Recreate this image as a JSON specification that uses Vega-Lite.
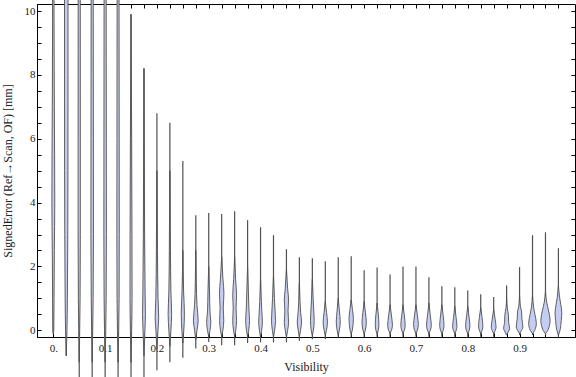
{
  "$schema": "https://vega.github.io/schema/vega-lite/v6.json",
  "width": 538,
  "height": 333,
  "autosize": {"type": "none"},
  "padding": {"left": 37, "top": 4, "right": 1, "bottom": 40},
  "background": "white",
  "config": {
    "view": {"stroke": "#000", "strokeWidth": 1},
    "axis": {
      "labelFont": "Liberation Serif", "titleFont": "Liberation Serif",
      "labelFontSize": 11, "titleFontSize": 12, "labelColor": "#222", "titleColor": "#222",
      "titleFontWeight": "normal", "domainColor": "#000", "tickColor": "#000", "grid": false,
      "labelOverlap": false, "labelFlush": false
    }
  },
  "datasets": {
    "ranges": [
      {"v":0,"lo":-0.1,"hi":11},{"v":0.025,"lo":-0.8,"hi":11},{"v":0.05,"lo":-2,"hi":11},{"v":0.075,"lo":-2,"hi":11},
      {"v":0.1,"lo":-2,"hi":11},{"v":0.125,"lo":-2,"hi":11},{"v":0.15,"lo":-2,"hi":9.9},{"v":0.175,"lo":-2,"hi":8.2},
      {"v":0.2,"lo":-1.25,"hi":6.8},{"v":0.225,"lo":-1.0,"hi":6.5},{"v":0.25,"lo":-0.86,"hi":5.3},{"v":0.275,"lo":-0.57,"hi":3.6},
      {"v":0.3,"lo":-0.37,"hi":3.67},{"v":0.325,"lo":-0.47,"hi":3.64},{"v":0.35,"lo":-0.47,"hi":3.73},{"v":0.375,"lo":-0.4,"hi":3.45},
      {"v":0.4,"lo":-0.38,"hi":3.23},{"v":0.425,"lo":-0.38,"hi":2.98},{"v":0.45,"lo":-0.38,"hi":2.54},{"v":0.475,"lo":-0.33,"hi":2.29},
      {"v":0.5,"lo":-0.28,"hi":2.26},{"v":0.525,"lo":-0.28,"hi":2.16},{"v":0.55,"lo":-0.25,"hi":2.29},{"v":0.575,"lo":-0.2,"hi":2.32},
      {"v":0.6,"lo":-0.2,"hi":1.88},{"v":0.625,"lo":-0.2,"hi":1.97},{"v":0.65,"lo":-0.2,"hi":1.75},{"v":0.675,"lo":-0.2,"hi":2.0},
      {"v":0.7,"lo":-0.2,"hi":2.0},{"v":0.725,"lo":-0.2,"hi":1.66},{"v":0.75,"lo":-0.2,"hi":1.38},{"v":0.775,"lo":-0.2,"hi":1.35},
      {"v":0.8,"lo":-0.2,"hi":1.25},{"v":0.825,"lo":-0.2,"hi":1.13},{"v":0.85,"lo":-0.2,"hi":1.04},{"v":0.875,"lo":-0.15,"hi":1.4},
      {"v":0.9,"lo":-0.15,"hi":1.98},{"v":0.925,"lo":-0.15,"hi":2.98},{"v":0.95,"lo":-0.15,"hi":3.07},{"v":0.975,"lo":-0.23,"hi":2.57}
    ],
    "profiles": [
      {"v":0,"y":-0.1,"d":0.05},{"v":0,"y":0,"d":0.6},{"v":0,"y":1,"d":0.9},{"v":0,"y":2.5,"d":1.3},{"v":0,"y":4,"d":1.8},{"v":0,"y":5.5,"d":1.6},{"v":0,"y":7,"d":1.3},{"v":0,"y":9,"d":1.0},{"v":0,"y":11,"d":0.8},
      {"v":0.025,"y":-0.8,"d":0.05},{"v":0.025,"y":-0.3,"d":0.5},{"v":0.025,"y":0,"d":0.9},{"v":0.025,"y":1,"d":1.4},{"v":0.025,"y":3,"d":1.9},{"v":0.025,"y":5,"d":2.1},{"v":0.025,"y":8,"d":2.2},{"v":0.025,"y":11,"d":2.2},
      {"v":0.05,"y":-1,"d":0.05},{"v":0.05,"y":0,"d":0.6},{"v":0.05,"y":1,"d":1.1},{"v":0.05,"y":3,"d":1.4},{"v":0.05,"y":6,"d":1.4},{"v":0.05,"y":11,"d":1.3},
      {"v":0.075,"y":-1,"d":0.05},{"v":0.075,"y":0,"d":0.7},{"v":0.075,"y":1,"d":1.2},{"v":0.075,"y":3,"d":1.6},{"v":0.075,"y":6,"d":1.5},{"v":0.075,"y":11,"d":1.3},
      {"v":0.1,"y":-1,"d":0.05},{"v":0.1,"y":0,"d":0.8},{"v":0.1,"y":1,"d":1.3},{"v":0.1,"y":3,"d":1.6},{"v":0.1,"y":6,"d":1.5},{"v":0.1,"y":11,"d":1.3},
      {"v":0.125,"y":-1,"d":0.05},{"v":0.125,"y":0,"d":0.8},{"v":0.125,"y":1,"d":1.3},{"v":0.125,"y":3,"d":1.5},{"v":0.125,"y":6,"d":1.4},{"v":0.125,"y":11,"d":1.2},
      {"v":0.15,"y":-1,"d":0.05},{"v":0.15,"y":0,"d":0.8},{"v":0.15,"y":1,"d":1.3},{"v":0.15,"y":3,"d":1.2},{"v":0.15,"y":6,"d":0.8},{"v":0.15,"y":9.9,"d":0.05},
      {"v":0.175,"y":-0.8,"d":0.05},{"v":0.175,"y":0,"d":1.2},{"v":0.175,"y":0.5,"d":1.8},{"v":0.175,"y":1.2,"d":1.4},{"v":0.175,"y":3,"d":0.8},{"v":0.175,"y":6,"d":0.4},{"v":0.175,"y":8.2,"d":0.05},
      {"v":0.2,"y":-0.6,"d":0.05},{"v":0.2,"y":0,"d":1.3},{"v":0.2,"y":0.4,"d":2.2},{"v":0.2,"y":1,"d":1.4},{"v":0.2,"y":2.5,"d":0.7},{"v":0.2,"y":5,"d":0.05},
      {"v":0.225,"y":-0.5,"d":0.05},{"v":0.225,"y":0,"d":1.3},{"v":0.225,"y":0.5,"d":2.2},{"v":0.225,"y":1.2,"d":1.3},{"v":0.225,"y":2.5,"d":0.7},{"v":0.225,"y":5,"d":0.05},
      {"v":0.25,"y":-0.4,"d":0.05},{"v":0.25,"y":0,"d":1.2},{"v":0.25,"y":0.5,"d":2.0},{"v":0.25,"y":1.2,"d":1.0},{"v":0.25,"y":2.5,"d":0.05},
      {"v":0.275,"y":-0.3,"d":0.05},{"v":0.275,"y":0,"d":1.5},{"v":0.275,"y":0.3,"d":3.0},{"v":0.275,"y":0.8,"d":1.5},{"v":0.275,"y":1.5,"d":0.6},{"v":0.275,"y":2.5,"d":0.05},
      {"v":0.3,"y":-0.2,"d":0.05},{"v":0.3,"y":0,"d":1.6},{"v":0.3,"y":0.25,"d":2.6},{"v":0.3,"y":0.6,"d":1.5},{"v":0.3,"y":1.2,"d":1.0},{"v":0.3,"y":2,"d":0.05},
      {"v":0.325,"y":-0.2,"d":0.05},{"v":0.325,"y":0,"d":1.5},{"v":0.325,"y":0.3,"d":2.6},{"v":0.325,"y":0.7,"d":2.0},{"v":0.325,"y":1.15,"d":2.8},{"v":0.325,"y":1.6,"d":1.6},{"v":0.325,"y":2.3,"d":0.05},
      {"v":0.35,"y":-0.2,"d":0.05},{"v":0.35,"y":0,"d":1.4},{"v":0.35,"y":0.3,"d":2.4},{"v":0.35,"y":0.7,"d":1.8},{"v":0.35,"y":1.1,"d":2.4},{"v":0.35,"y":1.6,"d":1.2},{"v":0.35,"y":2.3,"d":0.05},
      {"v":0.375,"y":-0.2,"d":0.05},{"v":0.375,"y":0,"d":1.4},{"v":0.375,"y":0.3,"d":2.4},{"v":0.375,"y":0.7,"d":1.6},{"v":0.375,"y":1.2,"d":1.0},{"v":0.375,"y":2,"d":0.05},
      {"v":0.4,"y":-0.2,"d":0.05},{"v":0.4,"y":0,"d":1.4},{"v":0.4,"y":0.26,"d":2.3},{"v":0.4,"y":0.6,"d":1.6},{"v":0.4,"y":0.9,"d":1.0},{"v":0.4,"y":1.6,"d":0.05},
      {"v":0.425,"y":-0.2,"d":0.05},{"v":0.425,"y":0,"d":1.4},{"v":0.425,"y":0.3,"d":2.5},{"v":0.425,"y":0.7,"d":1.8},{"v":0.425,"y":1.0,"d":1.2},{"v":0.425,"y":1.7,"d":0.05},
      {"v":0.45,"y":-0.2,"d":0.05},{"v":0.45,"y":0,"d":1.5},{"v":0.45,"y":0.25,"d":2.7},{"v":0.45,"y":0.6,"d":2.0},{"v":0.45,"y":0.95,"d":2.7},{"v":0.45,"y":1.3,"d":1.5},{"v":0.45,"y":1.9,"d":0.05},
      {"v":0.475,"y":-0.2,"d":0.05},{"v":0.475,"y":0,"d":1.5},{"v":0.475,"y":0.26,"d":2.7},{"v":0.475,"y":0.55,"d":1.6},{"v":0.475,"y":0.9,"d":0.8},{"v":0.475,"y":1.5,"d":0.05},
      {"v":0.5,"y":-0.15,"d":0.05},{"v":0.5,"y":0,"d":1.4},{"v":0.5,"y":0.3,"d":2.3},{"v":0.5,"y":0.7,"d":1.6},{"v":0.5,"y":1.0,"d":1.0},{"v":0.5,"y":1.6,"d":0.05},
      {"v":0.525,"y":-0.15,"d":0.05},{"v":0.525,"y":0,"d":1.5},{"v":0.525,"y":0.26,"d":2.7},{"v":0.525,"y":0.55,"d":1.6},{"v":0.525,"y":0.9,"d":0.05},
      {"v":0.55,"y":-0.15,"d":0.05},{"v":0.55,"y":0,"d":1.4},{"v":0.55,"y":0.26,"d":2.5},{"v":0.55,"y":0.6,"d":1.5},{"v":0.55,"y":1.0,"d":0.05},
      {"v":0.575,"y":-0.1,"d":0.05},{"v":0.575,"y":0,"d":1.4},{"v":0.575,"y":0.37,"d":2.7},{"v":0.575,"y":0.65,"d":1.6},{"v":0.575,"y":0.95,"d":0.05},
      {"v":0.6,"y":-0.1,"d":0.05},{"v":0.6,"y":0,"d":1.5},{"v":0.6,"y":0.26,"d":2.7},{"v":0.6,"y":0.55,"d":1.6},{"v":0.6,"y":0.9,"d":0.05},
      {"v":0.625,"y":-0.1,"d":0.05},{"v":0.625,"y":0,"d":1.5},{"v":0.625,"y":0.2,"d":2.3},{"v":0.625,"y":0.5,"d":1.5},{"v":0.625,"y":0.85,"d":0.05},
      {"v":0.65,"y":-0.1,"d":0.05},{"v":0.65,"y":0,"d":1.8},{"v":0.65,"y":0.16,"d":3.0},{"v":0.65,"y":0.45,"d":1.8},{"v":0.65,"y":0.8,"d":0.05},
      {"v":0.675,"y":-0.1,"d":0.05},{"v":0.675,"y":0,"d":1.7},{"v":0.675,"y":0.16,"d":2.7},{"v":0.675,"y":0.45,"d":1.7},{"v":0.675,"y":0.8,"d":0.05},
      {"v":0.7,"y":-0.1,"d":0.05},{"v":0.7,"y":0,"d":1.8},{"v":0.7,"y":0.18,"d":3.0},{"v":0.7,"y":0.45,"d":1.9},{"v":0.7,"y":0.8,"d":0.05},
      {"v":0.725,"y":-0.1,"d":0.05},{"v":0.725,"y":0,"d":1.8},{"v":0.725,"y":0.16,"d":3.0},{"v":0.725,"y":0.45,"d":1.8},{"v":0.725,"y":0.85,"d":0.05},
      {"v":0.75,"y":-0.1,"d":0.05},{"v":0.75,"y":0,"d":1.7},{"v":0.75,"y":0.16,"d":2.7},{"v":0.75,"y":0.45,"d":1.7},{"v":0.75,"y":0.8,"d":0.05},
      {"v":0.775,"y":-0.1,"d":0.05},{"v":0.775,"y":0,"d":1.8},{"v":0.775,"y":0.12,"d":2.7},{"v":0.775,"y":0.4,"d":1.6},{"v":0.775,"y":0.75,"d":0.05},
      {"v":0.8,"y":-0.1,"d":0.05},{"v":0.8,"y":0,"d":1.8},{"v":0.8,"y":0.15,"d":2.7},{"v":0.8,"y":0.42,"d":1.6},{"v":0.8,"y":0.75,"d":0.05},
      {"v":0.825,"y":-0.1,"d":0.05},{"v":0.825,"y":0,"d":1.8},{"v":0.825,"y":0.14,"d":2.7},{"v":0.825,"y":0.4,"d":1.7},{"v":0.825,"y":0.7,"d":0.05},
      {"v":0.85,"y":-0.1,"d":0.05},{"v":0.85,"y":0,"d":2.0},{"v":0.85,"y":0.1,"d":3.0},{"v":0.85,"y":0.35,"d":1.8},{"v":0.85,"y":0.65,"d":0.05},
      {"v":0.875,"y":-0.15,"d":0.05},{"v":0.875,"y":-0.05,"d":2.0},{"v":0.875,"y":0.06,"d":3.8},{"v":0.875,"y":0.25,"d":2.5},{"v":0.875,"y":0.47,"d":2.3},{"v":0.875,"y":0.7,"d":0.8},{"v":0.875,"y":1.0,"d":0.05},
      {"v":0.9,"y":-0.1,"d":0.05},{"v":0.9,"y":0,"d":2.5},{"v":0.9,"y":0.1,"d":4.2},{"v":0.9,"y":0.35,"d":3.0},{"v":0.9,"y":0.6,"d":2.5},{"v":0.9,"y":0.75,"d":1.0},{"v":0.9,"y":1.1,"d":0.05},
      {"v":0.925,"y":-0.1,"d":0.05},{"v":0.925,"y":0,"d":2.8},{"v":0.925,"y":0.22,"d":4.8},{"v":0.925,"y":0.5,"d":3.0},{"v":0.925,"y":0.7,"d":1.5},{"v":0.925,"y":1.1,"d":0.05},
      {"v":0.95,"y":-0.1,"d":0.05},{"v":0.95,"y":0,"d":3.0},{"v":0.95,"y":0.31,"d":5.8},{"v":0.95,"y":0.6,"d":4.0},{"v":0.95,"y":0.88,"d":1.5},{"v":0.95,"y":1.2,"d":0.05},
      {"v":0.975,"y":-0.15,"d":0.05},{"v":0.975,"y":0,"d":2.0},{"v":0.975,"y":0.3,"d":3.5},{"v":0.975,"y":0.55,"d":4.2},{"v":0.975,"y":0.8,"d":3.0},{"v":0.975,"y":1.03,"d":1.5},{"v":0.975,"y":1.4,"d":0.05}
    ]
  },
  "layer": [
    {
      "data": {"name": "ranges"},
      "mark": {"type": "rule", "stroke": "#505050", "strokeWidth": 1.2},
      "encoding": {
        "x": {"field": "v", "type": "quantitative",
          "scale": {"domain": [-0.0315, 1.007], "nice": false, "zero": false},
          "axis": {"orient": "bottom", "title": "Visibility", "titlePadding": 8,
            "values": [0,0.025,0.05,0.075,0.1,0.125,0.15,0.175,0.2,0.225,0.25,0.275,0.3,0.325,0.35,0.375,0.4,0.425,0.45,0.475,0.5,0.525,0.55,0.575,0.6,0.625,0.65,0.675,0.7,0.725,0.75,0.775,0.8,0.825,0.85,0.875,0.9,0.925,0.95,0.975],
            "labelExpr": "abs(datum.value*10 - round(datum.value*10)) < 0.000001 ? (datum.value == 0 ? '0.' : format(datum.value, '.1f')) : ''",
            "tickSize": -4, "labelPadding": 9}},
        "y": {"field": "lo", "type": "quantitative",
          "scale": {"domain": [-0.21, 10.22], "nice": false, "zero": false},
          "axis": {"orient": "left", "title": "SignedError (Ref→Scan, OF) [mm]", "titlePadding": 10,
            "values": [0,0.5,1,1.5,2,2.5,3,3.5,4,4.5,5,5.5,6,6.5,7,7.5,8,8.5,9,9.5,10],
            "labelExpr": "datum.value % 2 == 0 ? format(datum.value, 'd') : ''",
            "tickSize": -4, "labelPadding": 6}},
        "y2": {"field": "hi"}
      }
    },
    {
      "data": {"name": "profiles"},
      "transform": [
        {"calculate": "datum.v - datum.d / 650", "as": "x0"},
        {"calculate": "datum.v + datum.d / 650", "as": "x1"}
      ],
      "mark": {"type": "area", "orient": "horizontal", "order": false, "fill": "#c6cdf2", "fillOpacity": 1, "stroke": "#505050", "strokeWidth": 0.9, "strokeJoin": "round", "interpolate": "monotone"},
      "encoding": {
        "x": {"field": "x0", "type": "quantitative",
          "scale": {"domain": [-0.0315, 1.007], "nice": false, "zero": false},
          "axis": {"orient": "top", "title": null, "labels": false, "domain": false,
            "values": [0,0.025,0.05,0.075,0.1,0.125,0.15,0.175,0.2,0.225,0.25,0.275,0.3,0.325,0.35,0.375,0.4,0.425,0.45,0.475,0.5,0.525,0.55,0.575,0.6,0.625,0.65,0.675,0.7,0.725,0.75,0.775,0.8,0.825,0.85,0.875,0.9,0.925,0.95,0.975],
            "tickSize": -4}},
        "x2": {"field": "x1"},
        "y": {"field": "y", "type": "quantitative",
          "scale": {"domain": [-0.21, 10.22], "nice": false, "zero": false},
          "axis": {"orient": "right", "title": null, "labels": false, "domain": false,
            "values": [0,0.5,1,1.5,2,2.5,3,3.5,4,4.5,5,5.5,6,6.5,7,7.5,8,8.5,9,9.5,10],
            "tickSize": -4}},
        "detail": {"field": "v", "type": "nominal"}
      }
    }
  ],
  "resolve": {"axis": {"x": "independent", "y": "independent"}}
}
